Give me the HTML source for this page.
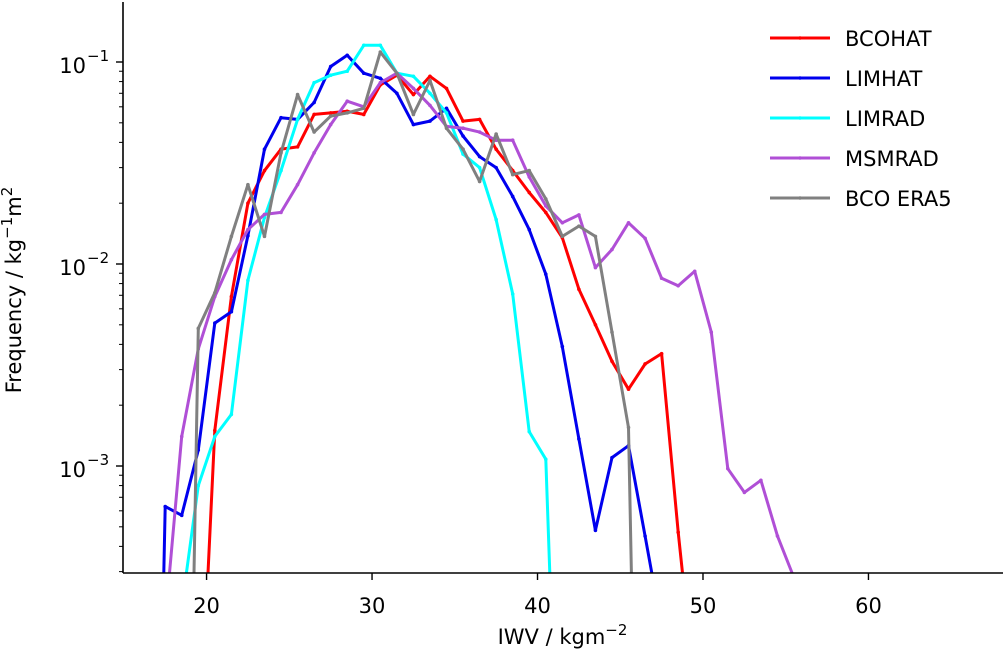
<!DOCTYPE html>
<html><head><meta charset="utf-8">
<style>
html,body{margin:0;padding:0;background:#fff;overflow:hidden;width:1004px;height:659px;}
svg{display:block;font-family:"DejaVu Sans","Liberation Sans",sans-serif;}
</style></head>
<body>
<svg id="chart" width="1004" height="659" viewBox="0 0 1004 659" xmlns="http://www.w3.org/2000/svg">
<g id="plot"></g>
<g id="axes"></g>
<g id="legend"></g>
</svg>
<script>
const xCenters = [16.5,17.5,18.5,19.5,20.5,21.5,22.5,23.5,24.5,25.5,26.5,27.5,28.5,29.5,30.5,31.5,32.5,33.5,34.5,35.5,36.5,37.5,38.5,39.5,40.5,41.5,42.5,43.5,44.5,45.5,46.5,47.5,48.5,49.5,50.5,51.5,52.5,53.5,54.5,55.5,56.5];
const seriesNames = ["BCOHAT","LIMHAT","LIMRAD","MSMRAD","BCO ERA5"];
const bcohat = [null,null,null,3e-5,0.0015,0.0069,0.020,0.029,0.037,0.038,0.055,0.056,0.057,0.055,0.077,0.086,0.069,0.085,0.074,0.051,0.052,0.037,0.029,0.0226,0.018,0.0135,0.0075,0.005,0.0033,0.0024,0.0032,0.0036,0.00047,8e-5,null,null,null,null,null,null,null];
const limhat = [1e-7,0.00063,0.00057,0.0012,0.0051,0.0058,0.0138,0.037,0.053,0.052,0.063,0.095,0.108,0.088,0.083,0.070,0.049,0.051,0.059,0.043,0.034,0.030,0.0216,0.0148,0.0089,0.0039,0.00136,0.00048,0.0011,0.00126,0.00045,1.6e-4,null,null,null,null,null,null,null,null,null];
const limrad = [null,null,2e-4,0.0008,0.0014,0.0018,0.0083,0.017,0.029,0.052,0.079,0.086,0.090,0.121,0.121,0.088,0.085,0.070,0.056,0.035,0.030,0.0166,0.0071,0.00148,0.00108,5e-6,null,null,null,null,null,null,null,null,null,null,null,null,null,null,null];
const msmrad = [null,1.7e-4,0.0014,0.0038,0.0069,0.0105,0.0148,0.0176,0.018,0.0247,0.0355,0.049,0.064,0.060,0.079,0.088,0.074,0.061,0.048,0.047,0.045,0.041,0.041,0.027,0.0194,0.016,0.0175,0.0096,0.0118,0.016,0.0134,0.0085,0.0078,0.0092,0.0046,0.00097,0.00074,0.00085,0.00045,2.8e-4,null];
const era5 = [null,null,1e-7,0.0048,0.0072,0.0137,0.0247,0.0137,0.0355,0.069,0.045,0.054,0.056,0.059,0.112,0.088,0.055,0.081,0.047,0.037,0.0256,0.044,0.0277,0.029,0.021,0.0137,0.0154,0.0137,0.0046,0.00155,1e-7,null,null,null,null,null,null,null,null,null,null];
const xTicks = [20,30,40,50,60];
const xTickLabels = ["20","30","40","50","60"];
const yTickExps = [-1,-2,-3];
const yTickLabels = ["\u22121","\u22122","\u22123"];

const L=123,R=1002,T=2,B=573;
const xMin=14.95,xMax=68.07;
function xs(v){return L+(v-xMin)/(xMax-xMin)*(R-L);}
function ys(v){return 62+(-1-Math.log10(v))*202;}
const NS="http://www.w3.org/2000/svg";
function mk(tag,attrs,parent){const e=document.createElementNS(NS,tag);for(const k in attrs)e.setAttribute(k,attrs[k]);parent.appendChild(e);return e;}

const plot=document.getElementById('plot');
const lines=mk('g',{},plot);
const colors=["#ff0000","#0000ee","#00ffff","#b04fd6","#808080"];
const allSeries=[bcohat,limhat,limrad,msmrad,era5];
allSeries.forEach((s,i)=>{
  const pts=[];let segs=[];let cur=[];
  s.forEach((v,j)=>{if(v==null||v<=0){if(cur.length)segs.push(cur);cur=[];return;}cur.push([xs(xCenters[j]),ys(v)]);});
  if(cur.length)segs.push(cur);
  let d="";
  segs.forEach(sg=>{
    const out=[];
    for(let k=0;k<sg.length;k++){
      const p=sg[k];
      if(p[1]<=B){
        if(k>0&&sg[k-1][1]>B){const q=sg[k-1];const f=(q[1]-B)/(q[1]-p[1]);out.push([q[0]+(p[0]-q[0])*f,B]);}
        out.push(p);pts.push(p);
      } else if(k>0&&sg[k-1][1]<=B){const q=sg[k-1];const f=(B-q[1])/(p[1]-q[1]);out.push([q[0]+(p[0]-q[0])*f,B]);}
    }
    out.forEach((p,k)=>{d+=(k?"L":"M")+p[0].toFixed(1)+","+p[1].toFixed(1);});
  });
  const p=mk('path',{d:d,fill:'none',stroke:colors[i],'stroke-width':3,'stroke-linejoin':'round'},lines);
  
  
  pts.forEach(pt=>{const c=mk('circle',{cx:pt[0],cy:pt[1],r:1.8,fill:colors[i]},lines);
    
    });
});

const ax=document.getElementById('axes');
const la=mk('line',{x1:L,y1:T,x2:L,y2:B,stroke:'#000','stroke-width':1.6},ax);


const ba=mk('line',{x1:L,y1:B,x2:R+1,y2:B,stroke:'#000','stroke-width':1.6},ax);


xTicks.forEach((t,i)=>{const X=xs(t);
  const tk=mk('line',{x1:X,y1:B,x2:X,y2:B+7,stroke:'#000','stroke-width':1.4},ax);
  
  
  const tx=mk('text',{x:X,y:B+40,'font-size':21,'text-anchor':'middle',fill:'#000'},ax);
  tx.textContent=xTickLabels[i];
  
  });
yTickExps.forEach((e,i)=>{const Y=ys(Math.pow(10,e));
  const tk=mk('line',{x1:L-7,y1:Y,x2:L,y2:Y,stroke:'#000','stroke-width':1.4},ax);
  
  
  const tx=mk('text',{x:86,y:Y+11,'font-size':21,'text-anchor':'end',fill:'#000'},ax);
  tx.textContent='10';
  
  
  const sx=mk('text',{x:87,y:Y-1,'font-size':15,'text-anchor':'start',fill:'#000'},ax);
  sx.textContent=yTickLabels[i];
  
  
  for(let k=0;k<2;k++){const base=e-k; if(k===1&&e!==-3)continue;
    for(let m=2;m<=9;m++){const yy=ys(m*Math.pow(10,base));if(yy<T||yy>B)continue;
      const mt=mk('line',{x1:L-4,y1:yy,x2:L,y2:yy,stroke:'#000','stroke-width':1},ax);
      
      }}
});
const xt=mk('text',{x:(L+R)/2,y:644,'font-size':21,'text-anchor':'middle',fill:'#000'},ax);
xt.innerHTML='IWV / kgm<tspan dy="-9" font-size="15">\u22122</tspan>';


const yt=mk('text',{x:0,y:0,'font-size':21,'text-anchor':'middle',fill:'#000',transform:'translate(21,290) rotate(-90)'},ax);
yt.innerHTML='Frequency / kg<tspan dy="-9" font-size="15">\u22121</tspan><tspan dy="9">m</tspan><tspan dy="-9" font-size="15">2</tspan>';



const lg=document.getElementById('legend');
seriesNames.forEach((n,i)=>{const Y=38+i*40;
  const g=mk('g',{},lg);
  
  
  mk('line',{x1:770,y1:Y,x2:830,y2:Y,stroke:colors[i],'stroke-width':3},g);
  mk('circle',{cx:800,cy:Y,r:1.8,fill:colors[i]},g);
  const t=mk('text',{x:845,y:Y+8,'font-size':21,fill:'#000'},g);
  t.textContent=n;
  
  });
</script>
</body></html>
